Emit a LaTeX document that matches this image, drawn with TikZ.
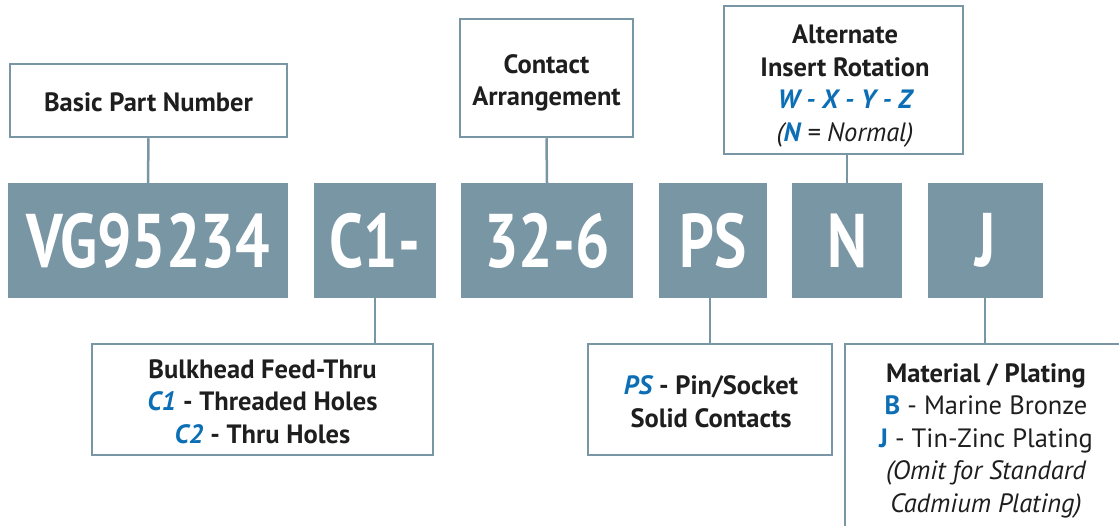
\documentclass[tikz,border=0pt]{standalone}
\usepackage{fontspec}
\setmainfont{PT Sans}
\newfontfamily\bigfont[FakeStretch=0.8]{PT Sans}
\definecolor{slate}{RGB}{121,150,164}
\definecolor{accent}{RGB}{12,110,180}
\definecolor{ink}{RGB}{30,30,30}
\begin{document}
\begin{tikzpicture}[x=1pt,y=-1pt,
  code/.style={fill=slate,draw=none,inner sep=0pt,text=white,
    font=\bigfont\fontsize{76}{76}\selectfont\bfseries},
  frame/.style={draw=slate,line width=2.5pt,fill=white,inner sep=0pt},
  caption/.style={inner sep=0pt,align=center,text=ink,
    font=\fontsize{26.5}{32.5}\selectfont},
  link/.style={draw=slate,line width=2.5pt}]
\useasboundingbox (0,0) rectangle (1119,525);
% code boxes
\node[code,minimum width=280pt,minimum height=115pt] (vg) at (148,240.5) {VG95234};
\node[code,minimum width=122pt,minimum height=115pt] (c1) at (375,240.5) {C1-};
\node[code,minimum width=172pt,minimum height=115pt] (ar) at (547,240.5) {32-6};
\node[code,minimum width=108pt,minimum height=115pt] (ps) at (713,240.5) {PS};
\node[code,minimum width=110pt,minimum height=115pt] (nn) at (847,240.5) {N};
\node[code,minimum width=115pt,minimum height=115pt] (jj) at (985.5,240.5) {J};
% label frames
\node[frame,minimum width=277pt,minimum height=73pt] (lbasic) at (148.5,100.5) {};
\node[frame,minimum width=173pt,minimum height=118pt] (lcont) at (546.5,78) {};
\node[frame,minimum width=239pt,minimum height=148pt] (lrot) at (843.5,80) {};
\node[frame,minimum width=341pt,minimum height=111pt] (lbulk) at (262.5,399.5) {};
\node[frame,minimum width=244pt,minimum height=111pt] (lps) at (710,399.5) {};
\node[frame,minimum width=284pt,minimum height=190pt] (lmat) at (987,439) {};
% label texts
\node[caption] (tbasic) at (148.5,102.5) {\bfseries Basic Part Number};
\node[caption] (tcont) at (546.5,83) {\bfseries Contact\\\bfseries Arrangement};
\node[caption] (trot) at (845,86)
  {\bfseries Alternate\\\bfseries Insert Rotation\\
   \bfseries\itshape\color{accent}W - X - Y - Z\\
   \itshape({\bfseries\color{accent}N} = Normal)};
\node[caption] (tbulk) at (262.5,401.5)
  {\bfseries Bulkhead Feed-Thru\\
   {\bfseries\itshape\color{accent}C1} \bfseries- Threaded Holes\\
   {\bfseries\itshape\color{accent}C2} \bfseries- Thru Holes};
\node[caption] (tps) at (711,401.5)
  {{\bfseries\itshape\color{accent}PS} \bfseries- Pin/Socket\\
   \bfseries Solid Contacts};
\node[caption] (tmat) at (986,440.5)
  {\bfseries Material / Plating\\
   {\bfseries\color{accent}B} - Marine Bronze\\
   {\bfseries\color{accent}J} - Tin-Zinc Plating\\
   \itshape (Omit for Standard\\
   \itshape Cadmium Plating)};
% connectors
\draw[link] (lbasic.south) -- (vg.north);
\draw[link] (lcont.south) -- (ar.north);
\draw[link] (lrot.south -| nn.north) -- (nn.north);
\draw[link] (c1.south) -- (c1.south |- lbulk.north);
\draw[link] (ps.south -| lps.north) -- (lps.north);
\draw[link] (jj.south -| 985,0) -- (985,0 |- lmat.north);
\end{tikzpicture}
\end{document}
